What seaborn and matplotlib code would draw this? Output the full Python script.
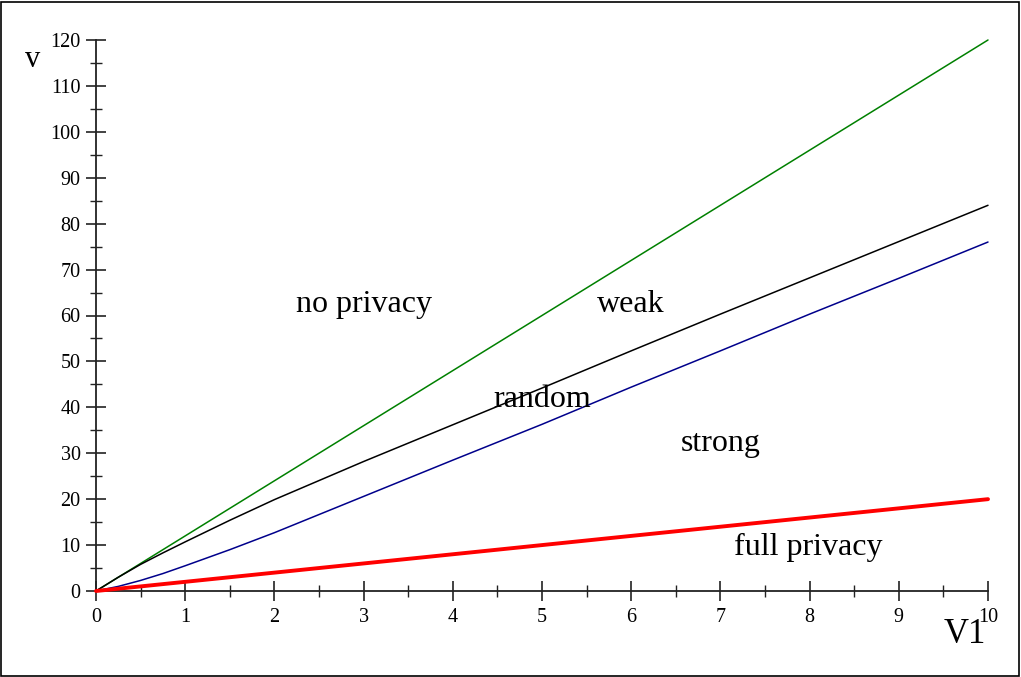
import matplotlib
matplotlib.use("Agg")
import matplotlib.pyplot as plt
import seaborn as sns
import pandas as pd
from matplotlib.ticker import MultipleLocator
from matplotlib.patches import Rectangle

# Data
x_vals = [0, 0.25, 0.5, 0.75, 1, 1.5, 2, 3, 4, 5, 6, 7, 8, 9, 10]
no_privacy_bound = [0, 3, 6, 9, 12, 18, 24, 36, 48, 60, 72, 84, 96, 108, 120]                       # green
random_curve = [0, 3.0, 5.8, 8.3, 10.7, 15.4, 19.9, 28.2, 36.2, 44.2, 52.3, 60.3, 68.2, 76.1, 84.0]  # black
strong_bound = [0, 1.0, 2.3, 3.8, 5.5, 9.0, 12.7, 20.6, 28.5, 36.3, 44.4, 52.3, 60.3, 68.1, 76.0]    # blue
full_privacy_bound = [0, 0.5, 1, 1.5, 2, 3, 4, 6, 8, 10, 12, 14, 16, 18, 20]                        # red

region_labels = ["no privacy", "weak", "random", "strong", "full privacy"]
label_x = [3.0, 6.0, 5.0, 7.0, 7.98]
label_y = [62.3, 62.3, 41.8, 32.2, 9.4]

xticks = list(range(0, 11))
yticks = list(range(0, 121, 10))

sns.set_style("ticks")
plt.rcParams['font.family'] = ['Liberation Serif', 'DejaVu Serif']
plt.rcParams['text.color'] = 'black'

fig = plt.figure(figsize=(10.21, 6.77), dpi=100)
ax = fig.add_axes([96/1021, 86/677, (988-96)/1021, (591-40)/677])

df = pd.DataFrame({
    "x": x_vals * 4,
    "y": no_privacy_bound + random_curve + strong_bound + full_privacy_bound,
    "s": ["g"] * len(x_vals) + ["k"] * len(x_vals) + ["b"] * len(x_vals) + ["r"] * len(x_vals),
})
palette = {"g": "#008000", "k": "#000000", "b": "#00008b", "r": "#ff0000"}
sizes = {"g": 1.1, "k": 1.1, "b": 1.1, "r": 2.8}
for key in ["g", "k", "b", "r"]:
    sub = df[df["s"] == key]
    sns.lineplot(data=sub, x="x", y="y", color=palette[key], linewidth=sizes[key],
                 ax=ax, legend=False, estimator=None, clip_on=False, zorder=3)

ax.set_xlim(0, 10)
ax.set_ylim(0, 120)
ax.set_xticks(xticks)
ax.set_yticks(yticks)
ax.xaxis.set_minor_locator(MultipleLocator(0.5))
ax.yaxis.set_minor_locator(MultipleLocator(5))
ax.set_xlabel("")
ax.set_ylabel("")
for s in ["top", "right"]:
    ax.spines[s].set_visible(False)
for s in ["left", "bottom"]:
    ax.spines[s].set_color("#222222")
    ax.spines[s].set_linewidth(1.3)
ax.tick_params(which="major", direction="inout", length=14, width=1.2, labelsize=14.5,
               colors="#222222", labelcolor="black")
ax.tick_params(which="minor", direction="inout", length=8, width=1.0, colors="#222222")
ax.tick_params(axis="x", pad=5)
ax.tick_params(axis="y", pad=4)

for t, lx, ly in zip(region_labels, label_x, label_y):
    ax.text(lx, ly, t, ha="center", va="center", fontsize=23, color="black")

ax.text(-0.71, 115.7, "v", ha="center", va="center", fontsize=22, color="black")
ax.text(9.74, -9.4, "V1", ha="center", va="center", fontsize=25, color="black", clip_on=False)

fig.patches.append(Rectangle((1/1021, 1/677), 1018/1021, 674/677, transform=fig.transFigure,
                             fill=False, edgecolor="black", linewidth=1.2))

fig.savefig("out.png", dpi=100)
